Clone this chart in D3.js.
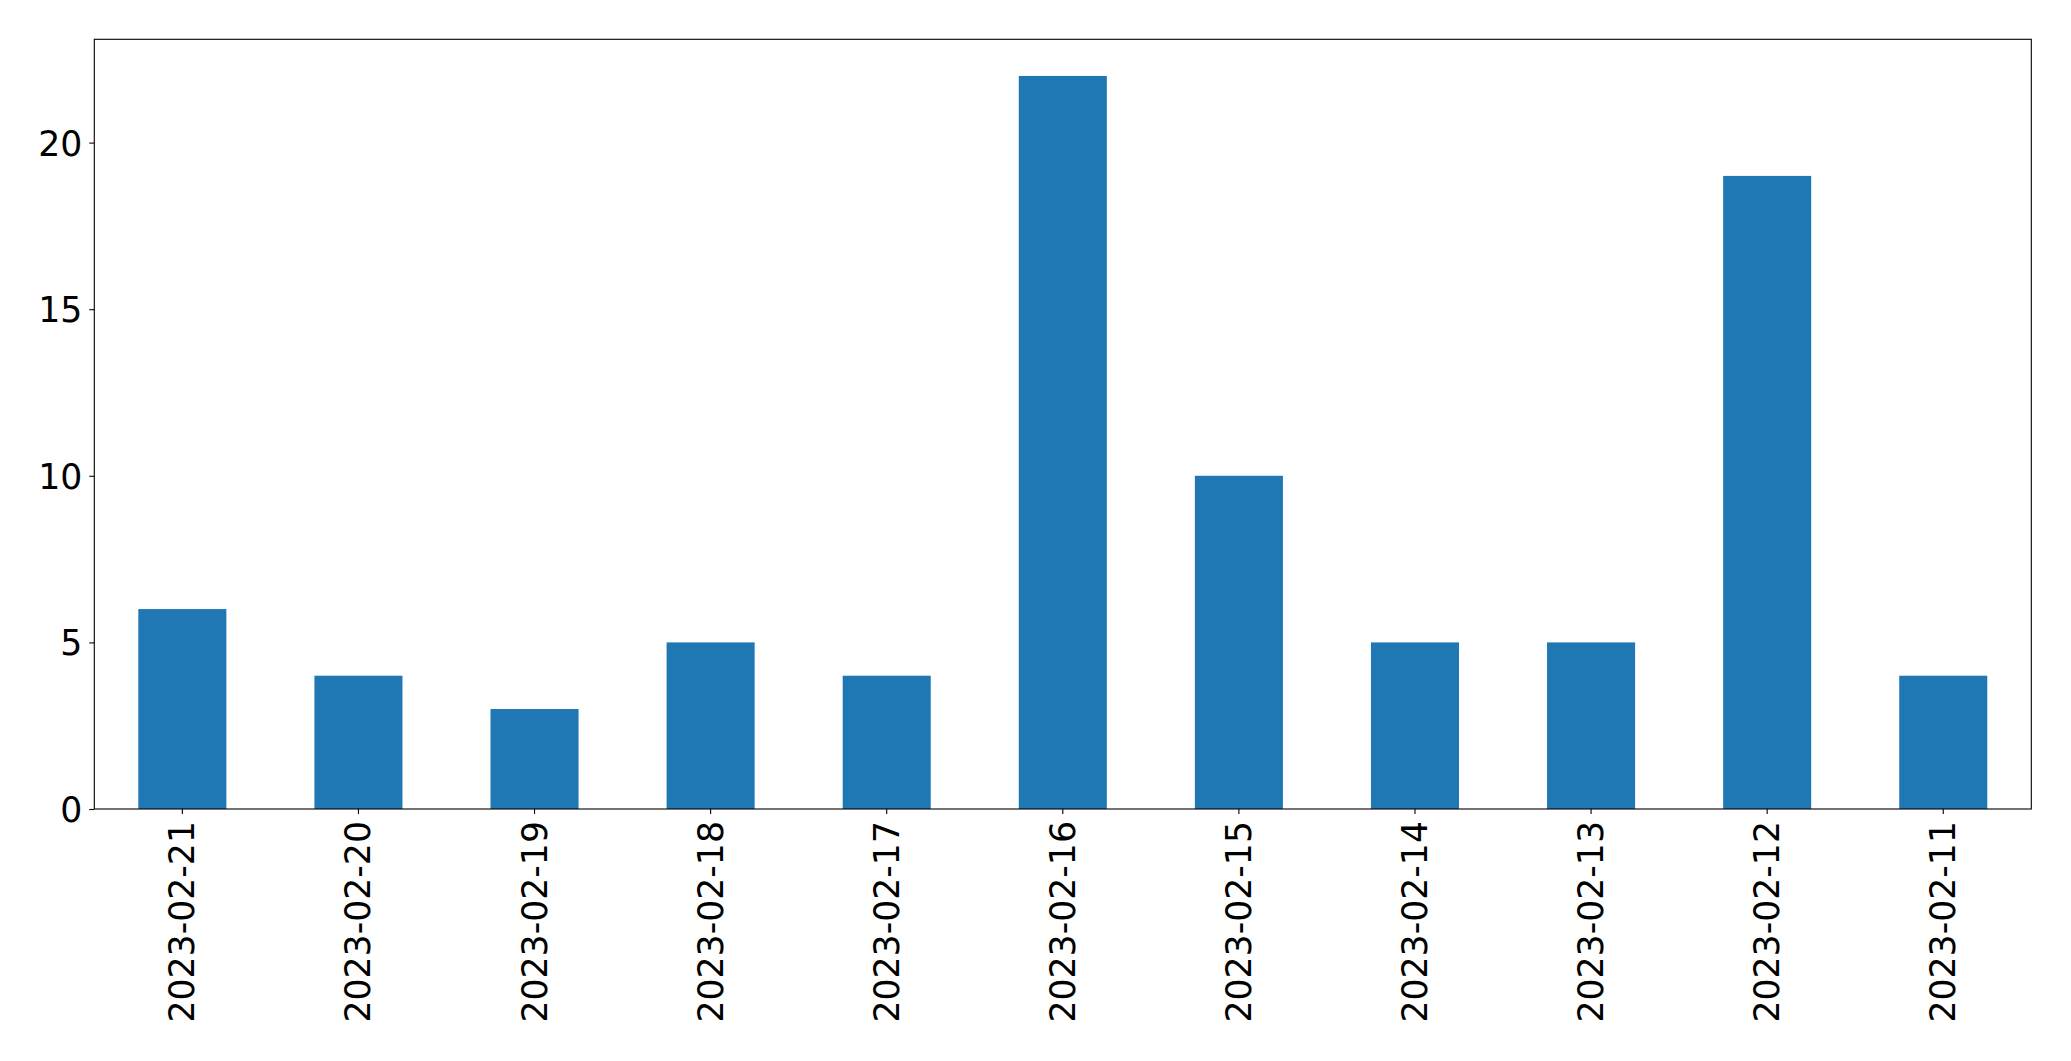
<!DOCTYPE html>
<html>
<head>
<meta charset="utf-8">
<script src="https://cdn.jsdelivr.net/npm/d3@7"></script>
<style>
html,body{margin:0;padding:0;background:#fff;}
svg{display:block;}
text{font-family:"DejaVu Sans",sans-serif;}
</style>
</head>
<body>
<script>
const categories = ["2023-02-21","2023-02-20","2023-02-19","2023-02-18","2023-02-17","2023-02-16","2023-02-15","2023-02-14","2023-02-13","2023-02-12","2023-02-11"];
const values = [6,4,3,5,4,22,10,5,5,19,4];
const yTicks = [0,5,10,15,20];

const W = 2071, H = 1061;
const m = {left:94.3, right:2031.3, top:39.3, bottom:809};
const fontPx = 34.7;

const svg = d3.select("body").append("svg").attr("width",W).attr("height",H);

const x = d3.scaleBand().domain(categories).range([m.left,m.right]).paddingInner(0.5).paddingOuter(0.25);
const y = d3.scaleLinear().domain([0, d3.max(values)*1.05]).range([m.bottom,m.top]);

svg.append("g").selectAll("rect").data(values).join("rect")
  .attr("x",(d,i)=>x(categories[i]))
  .attr("width",x.bandwidth())
  .attr("y",d=>y(d))
  .attr("height",d=>y(0)-y(d))
  .attr("fill","#1f77b4");

const yAxis = d3.axisLeft(y).tickValues(yTicks).tickSize(5).tickPadding(7).tickFormat(d3.format("d"));
const gy = svg.append("g").attr("transform",`translate(${m.left},0)`).call(yAxis);
gy.select(".domain").remove();
gy.selectAll("line").attr("stroke","#000").attr("stroke-width",1.1);
gy.selectAll("text").attr("font-size",fontPx).attr("fill","#000").attr("font-family","DejaVu Sans").attr("dy","0.36em");

const xAxis = d3.axisBottom(x).tickSize(5).tickPadding(0);
const gx = svg.append("g").attr("transform",`translate(0,${m.bottom})`).call(xAxis);
gx.select(".domain").remove();
gx.selectAll("line").attr("stroke","#000").attr("stroke-width",1.1);
gx.selectAll("text")
  .attr("font-size",fontPx).attr("fill","#000").attr("font-family","DejaVu Sans")
  .attr("text-anchor","end")
  .attr("dy",null)
  .attr("y",0)
  .attr("transform","translate(0,12) rotate(-90)")
  .attr("dominant-baseline","central");

svg.append("rect").attr("x",m.left).attr("y",m.top)
  .attr("width",m.right-m.left).attr("height",m.bottom-m.top)
  .attr("fill","none").attr("stroke","#000").attr("stroke-width",1.1);
</script>
</body>
</html>
